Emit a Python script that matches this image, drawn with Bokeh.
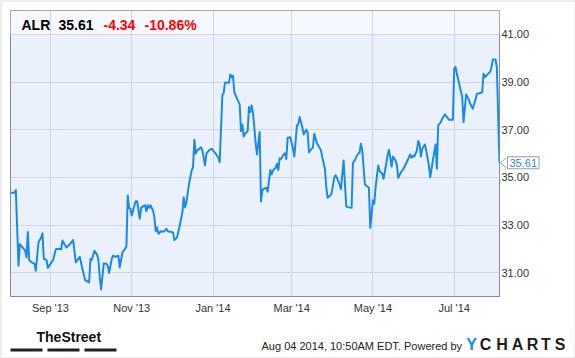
from datetime import datetime
from bokeh.plotting import figure
from bokeh.models import (Range1d, FixedTicker, DatetimeTickFormatter, NumeralTickFormatter,
                          BoxAnnotation, Label, ColumnDataSource, GridBox)
from bokeh.embed import file_html
from bokeh.resources import INLINE

# ---------------- data ----------------
ticker = "ALR"
last_price = 35.61
change = -4.34
change_pct = -10.86
timestamp_text = "Aug 04 2014, 10:50AM EDT."

dates = [
    "2013-08-02", "2013-08-05", "2013-08-06", "2013-08-08", "2013-08-09", "2013-08-11", "2013-08-13",
    "2013-08-14", "2013-08-15", "2013-08-16", "2013-08-18", "2013-08-20", "2013-08-21", "2013-08-23",
    "2013-08-25", "2013-08-26", "2013-08-27", "2013-08-29", "2013-08-30", "2013-09-01", "2013-09-03",
    "2013-09-05", "2013-09-07", "2013-09-09", "2013-09-10", "2013-09-13", "2013-09-15", "2013-09-18",
    "2013-09-20", "2013-09-23", "2013-09-25", "2013-09-27", "2013-09-30", "2013-10-01", "2013-10-02",
    "2013-10-04", "2013-10-06", "2013-10-07", "2013-10-08", "2013-10-09", "2013-10-11", "2013-10-13",
    "2013-10-14", "2013-10-15", "2013-10-17", "2013-10-18", "2013-10-20", "2013-10-22", "2013-10-23",
    "2013-10-25", "2013-10-27", "2013-10-28", "2013-10-29", "2013-10-30", "2013-10-31", "2013-11-01",
    "2013-11-03", "2013-11-04", "2013-11-05", "2013-11-07", "2013-11-08", "2013-11-10", "2013-11-11",
    "2013-11-12", "2013-11-13", "2013-11-14", "2013-11-15", "2013-11-17", "2013-11-18", "2013-11-19",
    "2013-11-20", "2013-11-21", "2013-11-23", "2013-11-25", "2013-11-27", "2013-11-28", "2013-11-30",
    "2013-12-02", "2013-12-03", "2013-12-05", "2013-12-07", "2013-12-09", "2013-12-10", "2013-12-11",
    "2013-12-12", "2013-12-14", "2013-12-16", "2013-12-17", "2013-12-18", "2013-12-19", "2013-12-20",
    "2013-12-21", "2013-12-23", "2013-12-24", "2013-12-26", "2013-12-27", "2013-12-29", "2013-12-31",
    "2014-01-01", "2014-01-03", "2014-01-05", "2014-01-06", "2014-01-08", "2014-01-09", "2014-01-10",
    "2014-01-12", "2014-01-13", "2014-01-14", "2014-01-15", "2014-01-16", "2014-01-17", "2014-01-19",
    "2014-01-21", "2014-01-22", "2014-01-23", "2014-01-24", "2014-01-25", "2014-01-27", "2014-01-28",
    "2014-01-29", "2014-01-30", "2014-01-31", "2014-02-01", "2014-02-02", "2014-02-03", "2014-02-05",
    "2014-02-06", "2014-02-07", "2014-02-08", "2014-02-10", "2014-02-11", "2014-02-13", "2014-02-14",
    "2014-02-15", "2014-02-17", "2014-02-18", "2014-02-19", "2014-02-20", "2014-02-21", "2014-02-23",
    "2014-02-24", "2014-02-25", "2014-02-26", "2014-02-28", "2014-03-02", "2014-03-03", "2014-03-05",
    "2014-03-06", "2014-03-07", "2014-03-08", "2014-03-09", "2014-03-10", "2014-03-12", "2014-03-13",
    "2014-03-14", "2014-03-15", "2014-03-17", "2014-03-18", "2014-03-20", "2014-03-21", "2014-03-23",
    "2014-03-24", "2014-03-26", "2014-03-27", "2014-03-28", "2014-03-30", "2014-03-31", "2014-04-02",
    "2014-04-03", "2014-04-04", "2014-04-06", "2014-04-07", "2014-04-09", "2014-04-11", "2014-04-13",
    "2014-04-15", "2014-04-16", "2014-04-18", "2014-04-19", "2014-04-21", "2014-04-22", "2014-04-23",
    "2014-04-25", "2014-04-27", "2014-04-28", "2014-04-29", "2014-05-01", "2014-05-02", "2014-05-03",
    "2014-05-05", "2014-05-06", "2014-05-08", "2014-05-09", "2014-05-11", "2014-05-12", "2014-05-13",
    "2014-05-14", "2014-05-15", "2014-05-16", "2014-05-18", "2014-05-19", "2014-05-20", "2014-05-22",
    "2014-05-24", "2014-05-26", "2014-05-28", "2014-05-29", "2014-05-30", "2014-05-31", "2014-06-01",
    "2014-06-03", "2014-06-04", "2014-06-05", "2014-06-06", "2014-06-07", "2014-06-09", "2014-06-10",
    "2014-06-12", "2014-06-13", "2014-06-15", "2014-06-17", "2014-06-18", "2014-06-19", "2014-06-21",
    "2014-06-22", "2014-06-24", "2014-06-26", "2014-06-27", "2014-06-30", "2014-07-01", "2014-07-02",
    "2014-07-03", "2014-07-05", "2014-07-07", "2014-07-08", "2014-07-10", "2014-07-12", "2014-07-13",
    "2014-07-15", "2014-07-16", "2014-07-17", "2014-07-18", "2014-07-20", "2014-07-22", "2014-07-23",
    "2014-07-24", "2014-07-26", "2014-07-28", "2014-07-29", "2014-07-30", "2014-08-01", "2014-08-02",
    "2014-08-04",
]

prices = [
    34.35, 34.35, 34.47, 31.29, 32.20, 32.06, 31.92,
    31.64, 32.71, 31.53, 31.43, 31.37, 31.08, 32.27,
    32.48, 32.65, 31.58, 31.53, 31.20, 31.37, 31.53,
    31.98, 32.00, 31.98, 32.34, 32.06, 32.16, 32.37,
    31.43, 31.67, 31.15, 30.69, 30.59, 31.58, 31.53,
    31.92, 31.76, 31.53, 30.80, 30.30, 31.39, 31.37,
    31.29, 30.99, 31.58, 31.71, 31.67, 31.71, 31.22,
    31.85, 32.00, 32.10, 34.24, 33.72, 33.68, 33.40,
    33.82, 34.00, 34.00, 33.26, 33.72, 33.80, 33.83,
    33.58, 33.83, 33.72, 33.83, 33.60, 33.32, 32.74,
    32.90, 32.63, 32.74, 32.72, 32.84, 32.74, 32.72,
    32.69, 32.37, 32.48, 32.97, 33.53, 34.16, 33.74,
    33.95, 34.73, 35.29, 35.42, 36.58, 35.99, 36.13,
    36.16, 36.26, 36.13, 35.50, 35.99, 36.13, 36.20,
    36.13, 35.99, 35.82, 35.63, 38.44, 38.53, 38.98,
    38.97, 38.97, 39.32, 39.20, 39.26, 38.57, 38.30,
    38.06, 36.94, 37.22, 36.71, 36.83, 36.94, 37.95,
    37.74, 38.02, 37.70, 37.10, 36.41, 35.96, 36.90,
    33.99, 34.45, 34.52, 34.56, 34.40, 35.31, 35.12,
    35.29, 35.40, 35.57, 35.31, 35.80, 35.77, 35.96,
    36.01, 35.77, 36.66, 36.68, 36.20, 35.87, 37.18,
    37.22, 37.53, 37.32, 37.11, 36.80, 37.00, 36.90,
    36.05, 36.13, 36.26, 36.83, 36.43, 36.34, 36.13,
    35.84, 35.36, 34.58, 34.14, 34.24, 34.33, 35.00,
    35.08, 34.98, 34.70, 34.50, 35.71, 33.77, 33.74,
    33.72, 35.59, 35.78, 35.92, 36.05, 36.41, 36.13,
    34.70, 34.61, 34.56, 32.88, 34.03, 33.89, 34.58,
    35.50, 35.26, 35.15, 34.94, 35.57, 35.92, 36.16,
    35.84, 35.45, 35.87, 35.71, 35.50, 34.98, 35.21,
    35.36, 35.59, 35.84, 35.96, 35.82, 35.90, 35.87,
    36.13, 36.52, 36.41, 35.87, 36.20, 36.38, 36.13,
    35.50, 35.00, 35.71, 36.38, 35.36, 37.18, 37.32,
    37.46, 37.64, 37.50, 37.42, 37.42, 39.56, 39.63,
    39.35, 38.86, 38.37, 37.32, 38.48, 38.26, 38.09,
    37.88, 38.09, 38.26, 38.51, 38.53, 38.57, 39.35,
    39.20, 39.32, 39.42, 39.63, 39.94, 39.94, 39.63,
    35.61,
]

x_tick_dates = ["2013-09-01", "2013-11-01", "2014-01-01", "2014-03-01", "2014-05-01", "2014-07-01"]
x_tick_labels = ["Sep '13", "Nov '13", "Jan '14", "Mar '14", "May '14", "Jul '14"]
y_ticks = [31, 33, 35, 37, 39, 41]
x_start, x_end = "2013-08-02", "2014-08-04"
y_start, y_end = 30.0, 42.0

# ---------------- build ----------------
def to_dt(s):
    return datetime.strptime(s, "%Y-%m-%d")

def to_ms(s):
    return (to_dt(s) - datetime(1970, 1, 1)).total_seconds() * 1000.0

W, H = 575, 358
BLUE = "#1a8ae6"
FONT = "Liberation Sans"
BORDER = "#8c8c8c"
FRAME_L, FRAME_R, FRAME_T, FRAME_B = 10, 499, 10, 296

src = ColumnDataSource(data=dict(date=[to_dt(d) for d in dates], price=prices))

p = figure(width=W, height=H, x_axis_type="datetime", y_axis_location="right",
           x_range=Range1d(to_dt(x_start), to_dt(x_end)), y_range=Range1d(y_start, y_end),
           output_backend="svg", toolbar_location=None,
           min_border_left=FRAME_L, min_border_right=W - FRAME_R,
           min_border_top=FRAME_T, min_border_bottom=H - FRAME_B,
           background_fill_color="#eaf1fc", border_fill_color="white",
           outline_line_color=BORDER, outline_line_width=1)

# header band (above top gridline)
p.add_layout(BoxAnnotation(bottom=y_ticks[-1], fill_color="#f5f8fe", fill_alpha=1.0,
                           line_alpha=0, level="image"))

x_ticks_ms = [to_ms(d) for d in x_tick_dates]
xticker = FixedTicker(ticks=x_ticks_ms)
yticker = FixedTicker(ticks=y_ticks)

xa = p.xaxis[0]
xa.ticker = xticker
xa.formatter = DatetimeTickFormatter(months="%b '%y", days="%b '%y")
xa.major_label_overrides = {int(ms): lab for ms, lab in zip(x_ticks_ms, x_tick_labels)}
ya = p.yaxis[0]
ya.ticker = yticker
ya.formatter = NumeralTickFormatter(format="0.00")

for ax in (xa, ya):
    ax.axis_line_color = None
    ax.major_tick_line_color = None
    ax.minor_tick_line_color = None
    ax.major_tick_out = 0
    ax.major_tick_in = 0
    ax.minor_tick_out = 0
    ax.minor_tick_in = 0
    ax.major_label_text_font = FONT
    ax.major_label_text_font_size = "11px"
    ax.major_label_text_color = "#333333"
xa.major_label_standoff = 5
ya.major_label_standoff = 2

p.xgrid.ticker = xticker
p.ygrid.ticker = yticker
p.grid.grid_line_color = "#d3d6dc"
p.grid.grid_line_width = 1

p.line(x="date", y="price", source=src, line_color=BLUE, line_width=2, line_join="round")

def lab(fig, x, y, text, color="#000000", size="11px", style="normal", align="left",
        font=FONT, units="data", **kw):
    fig.add_layout(Label(x=x, y=y, x_units=units, y_units=units, text=text,
                         text_color=color, text_font_size=size, text_font_style=style,
                         text_align=align, text_baseline="middle", text_font=font, **kw))

# header texts (inside the frame)
lab(p, 21, 24, ticker, size="14px", style="bold", units="canvas")
lab(p, 58, 24, f"{last_price:.2f}", size="14px", style="bold", units="canvas")
lab(p, 103, 24, f"{change:.2f}", color="#ff0000", size="14px", style="bold", units="canvas")
lab(p, 144, 24, f"{change_pct:.2f}%", color="#ff0000", size="14px", style="bold", units="canvas")

# ---------------- transparent overlay for everything outside the frame ----------------
ov = figure(width=W, height=H, x_range=Range1d(0, W), y_range=Range1d(H, 0),
            output_backend="svg", toolbar_location=None, x_axis_location=None, y_axis_location=None,
            min_border=0, outline_line_color=None,
            background_fill_alpha=0, border_fill_alpha=0)
ov.grid.visible = False
for fig in (p, ov):
    if "frame_align" in fig.properties():
        fig.frame_align = False

# last-value callout, placed at the last price through the same price scale
k = (FRAME_B - FRAME_T) / (y_end - y_start)
ov.extra_y_ranges = {"price": Range1d(y_start - (H - FRAME_B) / k, y_end + FRAME_T / k)}
ov.add_layout(Label(x=507, y=prices[-1], y_range_name="price", text=f"{prices[-1]:.2f}",
                    text_color=BLUE, text_font=FONT, text_font_size="11px", text_baseline="middle",
                    border_line_color="#9a9a9a", background_fill_color="white", padding=2))
tip = 5.0 / k
ov.patch(x=[500, 505.6, 505.6], y=[prices[-1], prices[-1] + tip, prices[-1] - tip],
         y_range_name="price", fill_color="white", line_alpha=0, level="overlay")
ov.line(x=[505.6, 500, 505.6], y=[prices[-1] + tip, prices[-1], prices[-1] - tip],
        y_range_name="price", line_color="#9a9a9a", line_width=1, level="overlay")

# footer
lab(ov, 36, 336, "TheStreet", color="#111111", size="14px", style="bold")
for l, r in [(10, 42), (47, 79), (84, 116)]:
    ov.add_layout(BoxAnnotation(left=l, right=r, top=348, bottom=351,
                                fill_color="#231f20", fill_alpha=1.0, line_alpha=0))
lab(ov, 261, 345, timestamp_text + " Powered by", color="#222222", size="11px")
for i, (ch, cx) in enumerate(zip("YCHARTS", [471, 485, 501.5, 517, 532, 545.5, 559.5])):
    lab(ov, cx, 343.5, ch, color=(BLUE if i == 0 else "#1d1d1b"), size="16px",
        style="bold", align="center")

# outer border of the whole picture
ov.add_layout(BoxAnnotation(left=0, right=W, top=0, bottom=H,
                            fill_alpha=0, line_color=BORDER, line_width=2))

layout = GridBox(children=[(p, 0, 0), (ov, 0, 0)])
open("out.html", "w").write(file_html(layout, INLINE))
